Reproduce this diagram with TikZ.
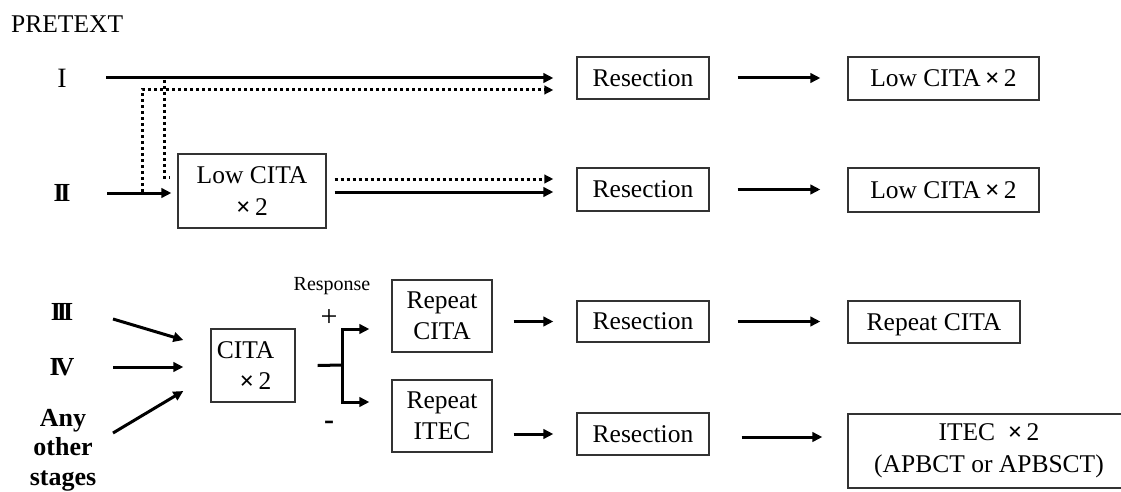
\documentclass[tikz,border=0pt]{standalone}
\usepackage{fontspec}
\setmainfont{Liberation Serif}
\usetikzlibrary{arrows.meta,calc}
\newcommand{\tms}{{\bfseries ×}}
\begin{document}
\begin{tikzpicture}[x=1pt,y=-1pt,
  box/.style={draw=black!80, line width=1.3pt, inner sep=0pt, align=center,
              font=\fontsize{25.5}{31.5}\selectfont},
  lbl/.style={inner sep=0pt},
  arr/.style={line width=3pt, -{Triangle[length=10pt,width=9.5pt]}},
  dotarr/.style={line width=3pt, dash pattern=on 3pt off 3pt,
                 -{Triangle[length=9pt,width=8.5pt]}},
  dotline/.style={line width=3pt, dash pattern=on 3pt off 3pt},
  stage/.style={lbl, font=\fontsize{26}{28}\selectfont\bfseries},
]
\useasboundingbox (0,0) rectangle (1121,492);

% title
\node[lbl, anchor=base west, font=\fontsize{25.5}{30}\selectfont] (pretext) at (11,33) {PRETEXT};

% stage labels
\node[lbl, font=\fontsize{28}{30}\selectfont] (lI) at (62,78) {I};
\node[stage] (lII) at (62,193) {I\kern-3.5pt I};
\node[stage] (lIII) at (62,312) {I\kern-4pt I\kern-4pt I};
\node[stage] (lIV) at (62,367) {I\kern-4pt V};
\node[lbl, align=center, font=\fontsize{26}{29.5}\selectfont\bfseries] (lAny) at (63,450) {Any\\other\\stages};

% boxes
\node[box, minimum width=148pt, minimum height=74pt] (lowcita) at (252,191) {Low CITA\\\tms\,2};
\node[box, minimum width=84pt, minimum height=73pt] (cita) at (253,365.5) {CITA\hspace*{15pt}\\\hspace*{5pt}\tms\,2};
\node[box, minimum width=100pt, minimum height=72pt] (rc) at (442,316) {Repeat\\CITA};
\node[box, minimum width=100pt, minimum height=72pt] (ri) at (442,416) {Repeat\\ITEC};

\node[box, minimum width=132pt, minimum height=42pt] (res1) at (643,78) {Resection};
\node[box, minimum width=132pt, minimum height=43pt] (res2) at (643,189.5) {Resection};
\node[box, minimum width=132pt, minimum height=41pt] (res3) at (643,321.5) {Resection};
\node[box, minimum width=132pt, minimum height=42pt] (res4) at (643,434) {Resection};

\node[box, minimum width=191pt, minimum height=43pt] (low1) at (943.5,78.5) {Low CITA\,\tms\,2};
\node[box, minimum width=191pt, minimum height=44pt] (low2) at (943.5,190) {Low CITA\,\tms\,2};
\node[box, text depth=0pt, minimum width=172pt, minimum height=42pt] (repcita) at (934,322) {Repeat CITA};
\node[box, minimum width=282pt, minimum height=74pt] (itec) at (989,451) {ITEC\ \ \tms\,2\\(APBCT or APBSCT)};

% response marks
\node[lbl, font=\fontsize{20}{24}\selectfont] (resp) at (332,286) {Response};
\node[lbl, font=\fontsize{30}{32}\selectfont] (plus) at (329,318) {+};
\node[lbl, font=\fontsize{30}{32}\selectfont\bfseries] (minus) at (329,425) {-};

% stage I and II routes
\draw[arr, shorten <=44pt, shorten >=23pt] (lI.center) -- (lI.center -| res1.west);
\coordinate (tapII) at (142,192);
\coordinate (tapI) at (164,80);
\draw[dotarr, shorten >=23pt] (tapII) |- ($(res1.west)+(0,12)$);
\draw[dotline] (tapI) |- ($(lowcita.west)+(-8,-14)$);
\draw[arr, shorten <=45pt, shorten >=6pt] (lII.center) -- (lII.center -| lowcita.west);
\draw[dotarr, shorten <=8pt, shorten >=23pt] ($(lowcita.east)+(0,-12)$) coordinate (d2) -- (d2 -| res2.west);
\draw[arr, shorten <=8pt, shorten >=23pt] ($(lowcita.east)+(0,1)$) coordinate (s2) -- (s2 -| res2.west);
\draw[arr, shorten <=28pt, shorten >=27pt] (res1.east) -- (res1.east -| low1.west);
\draw[arr, shorten <=28pt, shorten >=27pt] (res2.east) -- (res2.east -| low2.west);

% stages III, IV and others
\draw[arr] ($(lIII.center)+(51,7)$) -- ($(cita.west)+(-27,-25.5)$);
\draw[arr] ($(lIV.center)+(51,0)$) -- ($(cita.west)+(-27,1.5)$);
\draw[arr] ($(lAny.center)+(50,-17)$) -- ($(cita.west)+(-27,25.5)$);

% response fork
\coordinate (fork) at (342,365);
\draw[line width=3pt] ($(cita.east)+(22,0)$) -- (fork);
\draw[arr] (fork) |- ($(rc.west)+(-22,13)$);
\draw[arr] (fork) |- ($(ri.west)+(-22,-14)$);

% repeat treatments to resection and beyond
\draw[arr, shorten <=21pt, shorten >=23pt] (rc.east |- res3.west) -- (res3.west);
\draw[arr, shorten <=21pt, shorten >=23pt] (ri.east |- res4.west) -- (res4.west);
\draw[arr, shorten <=28pt, shorten >=27pt] (res3.east) -- (res3.east -| repcita.west);
\draw[arr, shorten <=32pt, shorten >=25pt] ($(res4.east)+(0,3)$) coordinate (s4) -- (s4 -| itec.west);
\end{tikzpicture}
\end{document}
